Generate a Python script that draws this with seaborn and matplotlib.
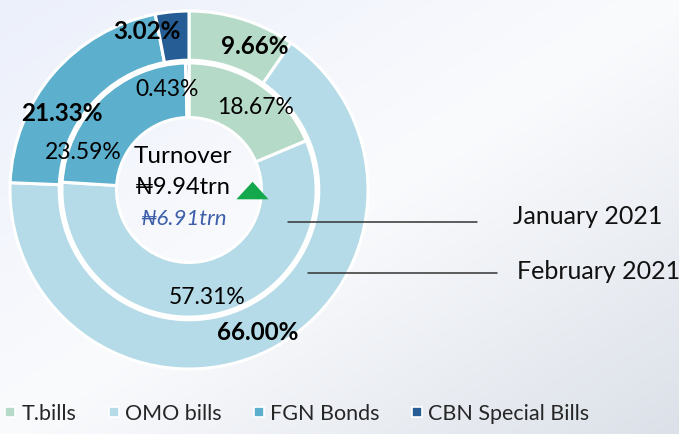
import matplotlib
matplotlib.use("Agg")
import matplotlib.pyplot as plt
import numpy as np
import seaborn as sns
from matplotlib.lines import Line2D
from matplotlib.patches import Polygon
from matplotlib.colors import LinearSegmentedColormap

# data
categories = ["T.bills", "OMO bills", "FGN Bonds", "CBN Special Bills"]
feb_share = [9.66, 66.00, 21.33, 3.02]   # outer ring, February 2021
jan_share = [18.67, 57.31, 23.59, 0.43]  # inner ring, January 2021
ring_names = ["January 2021", "February 2021"]
turnover_now = "\u20a69.94trn"
turnover_prev = "\u20a66.91trn"

palette = ["#b6dac8", "#b4dbe7", "#5cb0cd", "#265d94"]

# label placement (pie data coords, radius 1 = outer edge)
feb_label_pos = [(0.37, 0.80), (0.385, -0.795), (-0.71, 0.43), (-0.235, 0.885)]
jan_label_pos = [(0.37, 0.46), (0.10, -0.60), (-0.59, 0.21), (-0.12, 0.56)]

sns.set_theme(style="white")
plt.rcParams["font.family"] = ["Lato", "DejaVu Sans"]

W, H = 679, 434
fig = plt.figure(figsize=(W / 100, H / 100), dpi=100)

# background gradient: lavender top-left -> white -> grey bottom-right
bg = fig.add_axes([0, 0, 1, 1])
xx, yy = np.meshgrid(np.linspace(0, 1, 200), np.linspace(0, 1, 200))
s = (xx + yy) / 2
cmap = LinearSegmentedColormap.from_list(
    "bg", [(0.0, "#ecf0fb"), (0.5, "#fafbfd"), (1.0, "#dce1e9")]
)
bg.imshow(s, cmap=cmap, aspect="auto", extent=[0, 1, 0, 1], origin="upper")
bg.axis("off")

cx, cy, R = 189, 190, 179
ax = fig.add_axes([(cx - R) / W, (H - cy - R) / H, 2 * R / W, 2 * R / H])
ax.set_facecolor("none")

edge = dict(edgecolor="white", linewidth=2.2)
ax.pie(feb_share, radius=1.0, colors=palette, startangle=90, counterclock=False,
       wedgeprops=dict(width=0.275, **edge))
ax.pie(jan_share, radius=0.71, colors=palette, startangle=90, counterclock=False,
       wedgeprops=dict(width=0.305, **edge))
ax.set_xlim(-1, 1)
ax.set_ylim(-1, 1)
ax.set_aspect("equal")
ax.axis("off")

for v, (x, y) in zip(feb_share, feb_label_pos):
    ax.text(x, y, f"{v:.2f}%", ha="center", va="center", fontsize=17.5,
            fontweight="bold", color="black")
for v, (x, y) in zip(jan_share, jan_label_pos):
    ax.text(x, y, f"{v:.2f}%", ha="center", va="center", fontsize=16.5,
            color="black")

# centre text
ax.text(-0.035, 0.185, "Turnover", ha="center", va="center", fontsize=17.5,
        color="black")
ax.text(-0.035, 0.012, turnover_now, ha="center", va="center", fontsize=17,
        color="black")
ax.text(-0.03, -0.16, turnover_prev, ha="center", va="center", fontsize=16,
        style="italic", color="#3d5faa")
ax.add_patch(Polygon([(0.265, -0.052), (0.444, -0.052), (0.355, 0.046)],
                     closed=True, facecolor="#12a84b", edgecolor="none"))

# leader lines
ax.plot([0.553, 1.609], [-0.179, -0.179], color="#333333", lw=1.1, clip_on=False)
ax.text(1.81, -0.15, ring_names[0], ha="left", va="center", fontsize=18,
        color="#111111", clip_on=False)
ax.plot([0.665, 1.721], [-0.464, -0.464], color="#333333", lw=1.1, clip_on=False)
ax.text(1.832, -0.458, ring_names[1], ha="left", va="center", fontsize=18,
        color="#111111", clip_on=False)

handles = [Line2D([], [], marker="s", linestyle="", markersize=7,
                  markerfacecolor=c, markeredgecolor="white", markeredgewidth=1.2)
           for c in palette]
fig.legend(handles, categories, loc="center left", bbox_to_anchor=(0.0, 20 / H),
           ncol=4, frameon=False, fontsize=15.5, handlelength=0.45,
           handletextpad=0.3, columnspacing=1.5, borderaxespad=0.0,
           borderpad=0.25)

fig.savefig("out.png", dpi=100)
plt.close(fig)
